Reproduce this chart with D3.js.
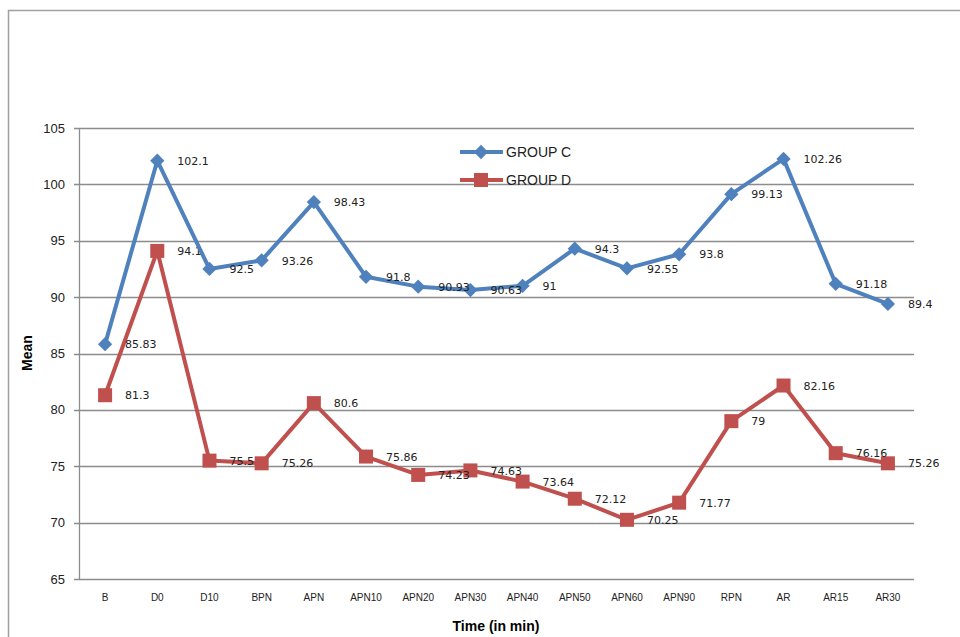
<!DOCTYPE html>
<html><head><meta charset="utf-8">
<script src="https://cdn.jsdelivr.net/npm/d3@7"></script>
<style>body{margin:0;background:#fff;}svg{display:block;}</style>
</head><body>
<svg id="c" width="960" height="637"></svg>
<script>
const categories = ["B","D0","D10","BPN","APN","APN10","APN20","APN30","APN40","APN50","APN60","APN90","RPN","AR","AR15","AR30"];
const groupC = [85.83,102.1,92.5,93.26,98.43,91.8,90.93,90.63,91,94.3,92.55,93.8,99.13,102.26,91.18,89.4];
const groupD = [81.3,94.1,75.5,75.26,80.6,75.86,74.23,74.63,73.64,72.12,70.25,71.77,79,82.16,76.16,75.26];
const yTicks = [65,70,75,80,85,90,95,100,105];
const seriesNames = ["GROUP C","GROUP D"];

const svg = d3.select("#c");
const L = 79, R = 914, T = 128, B = 579;
const x = d3.scaleBand().domain(categories).range([L, R]);
const y = d3.scaleLinear().domain([65,105]).range([B, T]);

// outer border
svg.append("rect").attr("x",8.5).attr("y",10.5).attr("width",970).attr("height",640)
  .attr("fill","none").attr("stroke","#a0a0a0").attr("stroke-width",1.5);

// grid
svg.append("g").selectAll("line").data(yTicks).join("line")
  .attr("x1",L-5).attr("x2",R).attr("y1",d=>Math.round(y(d))+0.5).attr("y2",d=>Math.round(y(d))+0.5)
  .attr("stroke","#8c8c8c").attr("stroke-width",1.3);
svg.append("line").attr("x1",L+0.5).attr("x2",L+0.5).attr("y1",T).attr("y2",B)
  .attr("stroke","#8c8c8c").attr("stroke-width",1.3);

// y tick labels
svg.append("g").selectAll("text").data(yTicks).join("text")
  .attr("x",65).attr("y",d=>y(d)).attr("dy","0.35em").attr("text-anchor","end")
  .attr("font-family","Liberation Sans, Arial, sans-serif").attr("font-size",13).attr("fill","#222")
  .text(d=>d);

// x tick labels
svg.append("g").selectAll("text").data(categories).join("text")
  .attr("x",d=>x(d)+x.bandwidth()/2).attr("y",601).attr("text-anchor","middle")
  .attr("font-family","Liberation Sans, Arial, sans-serif").attr("font-size",10).attr("fill","#222")
  .text(d=>d);

// axis titles
svg.append("text").attr("transform","translate(32,353) rotate(-90)").attr("text-anchor","middle")
  .attr("font-family","Liberation Sans, Arial, sans-serif").attr("font-size",14).attr("font-weight","bold").text("Mean");
svg.append("text").attr("x",496).attr("y",631).attr("text-anchor","middle")
  .attr("font-family","Liberation Sans, Arial, sans-serif").attr("font-size",14).attr("font-weight","bold").text("Time (in min)");

const cx = (d,i)=>x(categories[i])+x.bandwidth()/2;
const line = d3.line().x((d,i)=>cx(d,i)).y(d=>y(d));
const colors = ["#4F81BD","#C0504D"];
const diamond = d3.symbol().type(d3.symbolDiamond2).size(130);

function drawSeries(data, color, marker){
  svg.append("path").datum(data).attr("d",line).attr("fill","none").attr("stroke",color).attr("stroke-width",4).attr("stroke-linejoin","round");
  const g = svg.append("g");
  if (marker==="diamond"){
    g.selectAll("path").data(data).join("path").attr("d",diamond)
      .attr("transform",(d,i)=>`translate(${cx(d,i)},${y(d)})`).attr("fill",color);
  } else {
    g.selectAll("rect").data(data).join("rect")
      .attr("x",(d,i)=>cx(d,i)-7).attr("y",d=>y(d)-7).attr("width",14).attr("height",14).attr("fill",color);
  }
  svg.append("g").selectAll("text").data(data).join("text")
    .attr("x",(d,i)=>cx(d,i)+20).attr("y",d=>y(d)).attr("dy","0.38em")
    .attr("font-family","DejaVu Sans, Verdana, sans-serif").attr("font-size",11).attr("fill","#222")
    .text(d=>d);
}
drawSeries(groupD, colors[1], "square");
drawSeries(groupC, colors[0], "diamond");

// legend
const leg = svg.append("g");
seriesNames.forEach((n,i)=>{
  const ly = 152 + i*28;
  leg.append("line").attr("x1",460).attr("x2",503).attr("y1",ly).attr("y2",ly).attr("stroke",colors[i]).attr("stroke-width",4);
  if(i===0) leg.append("path").attr("d",diamond).attr("transform",`translate(481,${ly})`).attr("fill",colors[i]);
  else leg.append("rect").attr("x",474).attr("y",ly-7).attr("width",14).attr("height",14).attr("fill",colors[i]);
  leg.append("text").attr("x",506).attr("y",ly).attr("dy","0.36em")
    .attr("font-family","Liberation Sans, Arial, sans-serif").attr("font-size",14).attr("fill","#222").text(n);
});
</script>
</body></html>
